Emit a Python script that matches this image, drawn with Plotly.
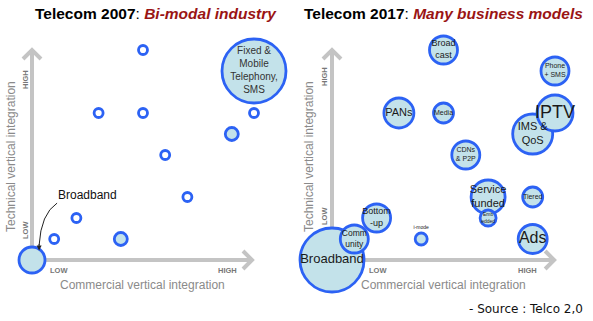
import plotly.graph_objects as go

# ---- data (grid units: 0 = LOW ... 10 = HIGH) ----
left_x = [0, 1, 2, 4, 5, 3, 5, 6, 7, 10, 9, 10]
left_y = [0, 1, 2, 1, 10, 7, 7, 5, 3, 7, 6, 9]
left_size = [26, 9, 9, 13, 9, 9, 9, 9, 9, 9, 13, 64]
left_labels = ["", "", "", "", "", "", "", "", "", "", "", "Fixed &<br>Mobile<br>Telephony,<br>SMS"]

right_labels = ["Broadband", "Comm<br>unity", "Bottom<br>-up", "i-mode", "Service<br>funded",
                "Emb<br>edded", "Tiered", "Ads", "Broad<br>cast", "Phone<br>+ SMS", "PANs",
                "Media", "CDNs<br>& P2P", "IMS &<br>QoS", "IPTV"]
right_x = [0, 1, 2, 4, 7, 7, 9, 9, 5, 10, 3, 5, 6, 9, 10]
right_y = [0, 1, 2, 1, 3, 2, 3, 1, 10, 9, 7, 7, 5, 6, 7]
right_size = [64, 28, 28, 12, 34, 16, 20, 29, 28, 28, 30, 20, 28, 40, 36]
right_font = [13, 8.5, 9, 5, 11, 5, 7, 16, 9, 7, 11, 7, 7, 11, 18]

titles = [("Telecom 2007", "Bi-modal industry"), ("Telecom 2017", "Many business models")]
x_title = "Commercial vertical integration"
y_title = "Technical vertical integration"
source = "- Source : Telco 2,0"

BORDER = "#2c62f4"
FILL = "#c3e2ea"
GRAY = "#c4c4c4"
FONT = "Liberation Sans, Arial, sans-serif"

W, H = 593, 321
fig = go.Figure()

fig.add_trace(go.Scatter(
    x=left_x, y=left_y, mode="markers+text", text=left_labels,
    textposition="middle center",
    textfont=dict(family=FONT, size=10, color="#333333"),
    marker=dict(size=left_size, sizemode="diameter",
                color=["#ffffff" if s < 10 else FILL for s in left_size],
                line=dict(color=BORDER, width=2.8), opacity=1),
    xaxis="x", yaxis="y", hoverinfo="skip", showlegend=False, cliponaxis=False))

fig.add_trace(go.Scatter(
    x=right_x, y=right_y, mode="markers+text", text=right_labels,
    textposition=["top center" if t == "i-mode" else "middle center" for t in right_labels],
    textfont=dict(family=FONT, size=right_font, color="#1a1a1a"),
    marker=dict(size=right_size, sizemode="diameter", color=FILL,
                line=dict(color=BORDER, width=2.8), opacity=1),
    xaxis="x2", yaxis="y2", hoverinfo="skip", showlegend=False, cliponaxis=False))

# axis geometry (px per grid unit and origin in px)
ux, uy = 22.2, 21.0
oy = 321 - 260  # origin from bottom
left_ox = 32
right_ox = 332 - W / 2
half = W / 2
y0 = -oy / uy
y1 = y0 + H / uy
ax_common = dict(visible=False, showgrid=False, zeroline=False, fixedrange=True)
fig.update_layout(
    xaxis=dict(domain=[0, 0.5], range=[-left_ox / ux, -left_ox / ux + half / ux], **ax_common),
    yaxis=dict(domain=[0, 1], range=[y0, y1], **ax_common),
    xaxis2=dict(domain=[0.5, 1], range=[-right_ox / 22.3, -right_ox / 22.3 + half / 22.3], **ax_common),
    yaxis2=dict(domain=[0, 1], range=[y0, y1], anchor="x2", **ax_common),
)

shapes = []
annotations = []
for xr, yr, xtip in [("x", "y", 9.91), ("x2", "y2", 9.96)]:
    shapes.append(dict(type="line", xref=xr, yref=yr, x0=0, y0=0, x1=xtip, y1=0,
                       line=dict(color=GRAY, width=4), layer="below"))
    shapes.append(dict(type="line", xref=xr, yref=yr, x0=0, y0=0, x1=0, y1=10,
                       line=dict(color=GRAY, width=4), layer="below"))
    shapes.append(dict(type="path", xref=xr, yref=yr, xsizemode="pixel", ysizemode="pixel",
                       xanchor=xtip, yanchor=0, path="M -9 -9 L 0 0 L -9 9",
                       line=dict(color=GRAY, width=4), layer="below"))
    shapes.append(dict(type="path", xref=xr, yref=yr, xsizemode="pixel", ysizemode="pixel",
                       xanchor=0, yanchor=10, path="M -9 -9 L 0 0 L 9 -9",
                       line=dict(color=GRAY, width=4), layer="below"))

# curved pointer to Broadband (left panel)
shapes.append(dict(type="path", xref="x", yref="y",
                   path="M 1.13 2.71 Q 0.4 2.2 0.32 0.7",
                   line=dict(color="#222222", width=1)))
annotations.append(dict(x=0.32, y=0.45, xref="x", yref="y", text="", showarrow=True,
                        ax=0, ay=-8, arrowhead=2, arrowsize=1, arrowwidth=1,
                        arrowcolor="#222222"))
annotations.append(dict(x=2.48, y=3.1, xref="x", yref="y", text="Broadband", showarrow=False,
                        xanchor="center", yanchor="middle",
                        font=dict(family=FONT, size=12, color="#111111")))


def paper_note(px_, py_, text, font, angle=0):
    annotations.append(dict(x=px_ / W, y=1 - py_ / H, xref="paper", yref="paper", showarrow=False,
                            xanchor="center", yanchor="middle", text=text, textangle=angle,
                            font=font))


# titles
for (a, b), xc in zip(titles, [156, 443]):
    paper_note(xc, 13, f"<b>{a}</b>: <b><i><span style='color:#9a1414'>{b}</span></i></b>",
               dict(family=FONT, size=15.5, color="#000000"))

# axis titles and LOW/HIGH labels
gray_font = dict(family=FONT, size=12, color="#8a8a8a")
for xc in [142, 443]:
    paper_note(xc, 285, x_title, gray_font)
for xc in [11, 309]:
    paper_note(xc, 157, y_title, gray_font, -90)
small = dict(family=FONT, size=7.5, color="#777777")
for px_, py_, t, ang in [(59, 270, "LOW", 0), (227, 270, "HIGH", 0), (25, 80, "HIGH", -90),
                         (25, 230, "LOW", -90), (378, 270, "LOW", 0), (527, 270, "HIGH", 0),
                         (324, 77, "HIGH", -90), (324, 216, "LOW", -90)]:
    paper_note(px_, py_, f"<b>{t}</b>", small, ang)

paper_note(526, 309, source, dict(family="DejaVu Sans, sans-serif", size=12, color="#111111"))

fig.update_layout(width=W, height=H, margin=dict(l=0, r=0, t=0, b=0),
                  paper_bgcolor="white", plot_bgcolor="white",
                  shapes=shapes, annotations=annotations)

fig.write_html("out.html")
